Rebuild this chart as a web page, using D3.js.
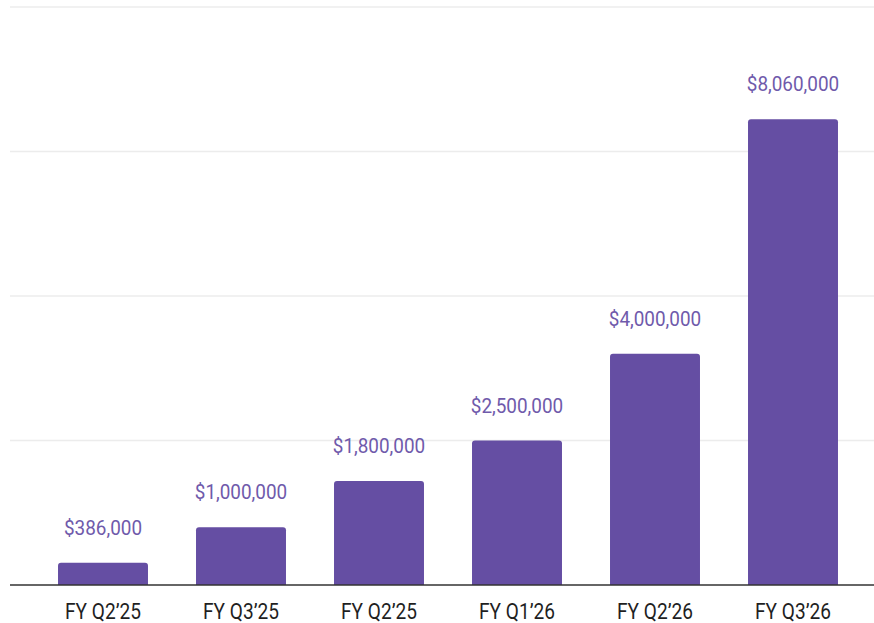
<!DOCTYPE html>
<html><head><meta charset="utf-8">
<script src="https://cdn.jsdelivr.net/npm/d3@7"></script>
<style>html,body{margin:0;padding:0;background:#fff;}</style>
</head><body>
<svg id="c" width="874" height="623"></svg>
<script>
const categories = ["FY Q2\u201925","FY Q3\u201925","FY Q2\u201925","FY Q1\u201926","FY Q2\u201926","FY Q3\u201926"];
const values = [386000, 1000000, 1800000, 2500000, 4000000, 8060000];
const gridTicks = [0, 2500000, 5000000, 7500000, 10000000];

const svg = d3.select("#c");
const x = d3.scaleBand().domain(d3.range(categories.length)).range([34, 862]).paddingInner(0.348).paddingOuter(0.174);
const y = d3.scaleLinear().domain([0, 10000000]).range([585, 7]);

svg.append("g").selectAll("line").data(gridTicks.slice(1)).join("line")
  .attr("x1", 10).attr("x2", 874)
  .attr("y1", d => y(d)).attr("y2", d => y(d))
  .attr("stroke", "#ececec").attr("stroke-width", 1.5);

const r = 3;
svg.append("g").selectAll("path").data(values).join("path")
  .attr("d", (d, i) => {
    const x0 = x(i), w = x.bandwidth(), y0 = y(d), yb = y(0);
    return `M${x0},${yb}V${y0 + r}Q${x0},${y0} ${x0 + r},${y0}H${x0 + w - r}Q${x0 + w},${y0} ${x0 + w},${y0 + r}V${yb}Z`;
  })
  .attr("fill", "#654ea3");

svg.append("line").attr("x1", 10).attr("x2", 874).attr("y1", y(0)).attr("y2", y(0))
  .attr("stroke", "#333").attr("stroke-width", 1.5);

const fmt = d3.format("$,");
svg.append("g").selectAll("text").data(values).join("text")
  .attr("transform", (d, i) => `translate(${x(i) + x.bandwidth() / 2},${y(d) - 28}) scale(0.97,1.06)`)
  .attr("text-anchor", "middle")
  .attr("font-family", "Roboto, sans-serif").attr("font-size", 19.5)
  .attr("fill", "#6f5aab")
  .text(d => fmt(d));

svg.append("g").selectAll("text").data(categories).join("text")
  .attr("transform", (d, i) => `translate(${x(i) + x.bandwidth() / 2},619) scale(0.98,1.1)`)
  .attr("text-anchor", "middle")
  .attr("font-family", "Roboto, sans-serif").attr("font-size", 19.5)
  .attr("fill", "#1f1f1f")
  .text(d => d);
</script>
</body></html>
